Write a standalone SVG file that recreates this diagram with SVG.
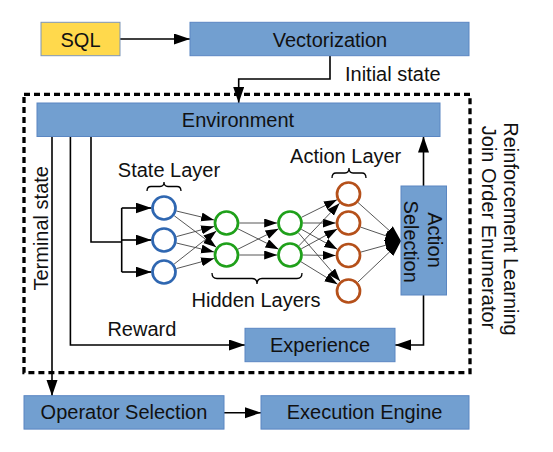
<svg xmlns="http://www.w3.org/2000/svg" width="553" height="452" viewBox="0 0 553 452">
<style>
text{font-family:"Liberation Sans",Arial,sans-serif;font-size:20px;fill:#111}
.box{fill:#729fd0;stroke:#5a86c2;stroke-width:1}
.sql{fill:#ffd94c;stroke:#7d95b8;stroke-width:1}
.c{text-anchor:middle}
.wire{fill:none;stroke:#000;stroke-width:1.6}
.nn{fill:none;stroke:#444;stroke-width:0.9}
.sn{fill:#fff;stroke:#2f67b1;stroke-width:2.7}
.hn{fill:#fff;stroke:#1fa01a;stroke-width:2.7}
.an{fill:#fff;stroke:#b5501a;stroke-width:2.7}
.brace{fill:none;stroke:#000;stroke-width:1.3}
</style>
<defs>
<marker id="ah" markerUnits="userSpaceOnUse" markerWidth="17" markerHeight="12" refX="16" refY="5.5" orient="auto"><path d="M0,0 L16,5.5 L0,11 Z" fill="#000"/></marker>
<marker id="sh" markerUnits="userSpaceOnUse" markerWidth="14" markerHeight="10" refX="13" refY="4.5" orient="auto"><path d="M0,0 L13,4.5 L0,9 Z" fill="#000"/></marker>
</defs>
<rect x="24" y="94.3" width="446" height="278.4" fill="none" stroke="#000" stroke-width="3.3" stroke-dasharray="6 4"/>
<g id="connectors">
<path class="wire" d="M120,39 H190" marker-end="url(#ah)"/>
<path class="wire" d="M330,56 V79 H238.7 V103" marker-end="url(#ah)"/>
<path class="wire" d="M52,136.5 V396" marker-end="url(#ah)"/>
<path class="wire" d="M70.4,136.5 V345 H245" marker-end="url(#ah)"/>
<path class="wire" d="M91,136.5 V242 H121.7"/>
<path class="wire" d="M121.7,208 V272"/>
<path class="wire" d="M121.7,208 H151.5" marker-end="url(#ah)"/>
<path class="wire" d="M121.7,240 H151.5" marker-end="url(#ah)"/>
<path class="wire" d="M121.7,272 H151.5" marker-end="url(#ah)"/>
<path class="wire" d="M423.5,186 V136.5" marker-end="url(#ah)"/>
<path class="wire" d="M423.5,295 V345 H395" marker-end="url(#ah)"/>
<path class="wire" d="M224,412.7 H261" marker-end="url(#ah)"/>
<g id="nn-edges">
<path class="nn" d="M176.4,211 L214.1,220" marker-end="url(#sh)"/>
<path class="nn" d="M174.2,215.7 L216.3,247.3" marker-end="url(#sh)"/>
<path class="nn" d="M176.4,236.6 L214.1,226.4" marker-end="url(#sh)"/>
<path class="nn" d="M176.4,243 L214.1,252" marker-end="url(#sh)"/>
<path class="nn" d="M174.1,264.1 L216.4,230.9" marker-end="url(#sh)"/>
<path class="nn" d="M176.4,268.6 L214.1,258.4" marker-end="url(#sh)"/>
<path class="nn" d="M239.3,223 L277.2,223" marker-end="url(#sh)"/>
<path class="nn" d="M237.9,228.8 L278.6,249.2" marker-end="url(#sh)"/>
<path class="nn" d="M237.9,249.2 L278.6,228.8" marker-end="url(#sh)"/>
<path class="nn" d="M239.3,255 L277.2,255" marker-end="url(#sh)"/>
<path class="nn" d="M301.5,217.3 L337,199.7" marker-end="url(#sh)"/>
<path class="nn" d="M302.8,223 L335.7,223" marker-end="url(#sh)"/>
<path class="nn" d="M301.2,229.2 L337.3,249.3" marker-end="url(#sh)"/>
<path class="nn" d="M298.3,232.7 L340.2,281.3" marker-end="url(#sh)"/>
<path class="nn" d="M298.9,245.8 L339.6,203.2" marker-end="url(#sh)"/>
<path class="nn" d="M301.2,248.9 L337.3,229.1" marker-end="url(#sh)"/>
<path class="nn" d="M302.8,255 L335.7,255.5" marker-end="url(#sh)"/>
<path class="nn" d="M300.9,261.7 L337.6,284.3" marker-end="url(#sh)"/>
<path class="nn" d="M358,202.5 L401,241" marker-end="url(#ah)"/>
<path class="nn" d="M360.6,227.1 L401,241" marker-end="url(#ah)"/>
<path class="nn" d="M360.8,252.1 L401,241" marker-end="url(#ah)"/>
<path class="nn" d="M357.8,282.2 L401,241" marker-end="url(#ah)"/>
</g>
</g>
<g id="sql"><rect class="sql" x="41" y="22.3" width="79" height="33.4"/><text class="c" x="80.5" y="46.5">SQL</text></g>
<g id="vectorization"><rect class="box" x="190" y="22.3" width="279" height="33.4"/><text class="c" x="330" y="46.5">Vectorization</text></g>
<text x="345" y="81">Initial state</text>
<g id="environment"><rect class="box" x="37" y="103" width="403" height="33.5"/><text class="c" x="238" y="126.7">Environment</text></g>
<text transform="translate(48,228.3) rotate(-90)" class="c">Terminal state</text>
<g id="state-layer">
<text class="c" x="169" y="176.7">State Layer</text>
<path class="brace" d="M147,191 Q147,186.5 151,186.5 H160 Q164,186.5 164,182 Q164,186.5 168,186.5 H177 Q181,186.5 181,191"/>
<circle class="sn" cx="164" cy="208" r="11.5"/>
<circle class="sn" cx="164" cy="240" r="11.5"/>
<circle class="sn" cx="164" cy="272" r="11.5"/>
</g>
<g id="hidden-layers">
<circle class="hn" cx="226.5" cy="223" r="11.5"/>
<circle class="hn" cx="226.5" cy="255" r="11.5"/>
<circle class="hn" cx="290" cy="223" r="11.5"/>
<circle class="hn" cx="290" cy="255" r="11.5"/>
<path class="brace" d="M212,273 Q212,278.5 217,278.5 H252 Q257,278.5 257,284 Q257,278.5 262,278.5 H297 Q302,278.5 302,273"/>
<text class="c" x="256" y="307">Hidden Layers</text>
</g>
<g id="action-layer">
<text class="c" x="345.7" y="163">Action Layer</text>
<path class="brace" d="M332,178 Q332,173 336,173 H345 Q349,173 349,168 Q349,173 353,173 H362 Q366,173 366,178"/>
<circle class="an" cx="348.5" cy="194" r="11.5"/>
<circle class="an" cx="348.5" cy="223" r="11.5"/>
<circle class="an" cx="348.5" cy="255.5" r="11.5"/>
<circle class="an" cx="348.5" cy="291" r="11.5"/>
</g>
<g id="action-selection"><rect class="box" x="401" y="186" width="45.5" height="109"/>
<text class="c" transform="translate(427.5,240) rotate(90)">Action</text>
<text class="c" transform="translate(403.5,241.7) rotate(90)">Selection</text>
</g>
<text x="107.4" y="336">Reward</text>
<g id="experience"><rect class="box" x="245" y="328.3" width="150" height="33.4"/><text class="c" x="320" y="352">Experience</text></g>
<g id="enumerator-label">
<text class="c" transform="translate(504,229) rotate(90)">Reinforcement Learning</text>
<text class="c" transform="translate(482,227.5) rotate(90)">Join Order Enumerator</text>
</g>
<g id="operator-selection"><rect class="box" x="24" y="395.7" width="200" height="33.4"/><text class="c" x="124" y="419.3">Operator Selection</text></g>
<g id="execution-engine"><rect class="box" x="261" y="395.7" width="208" height="33.4"/><text class="c" x="364.6" y="419.3">Execution Engine</text></g>
</svg>
